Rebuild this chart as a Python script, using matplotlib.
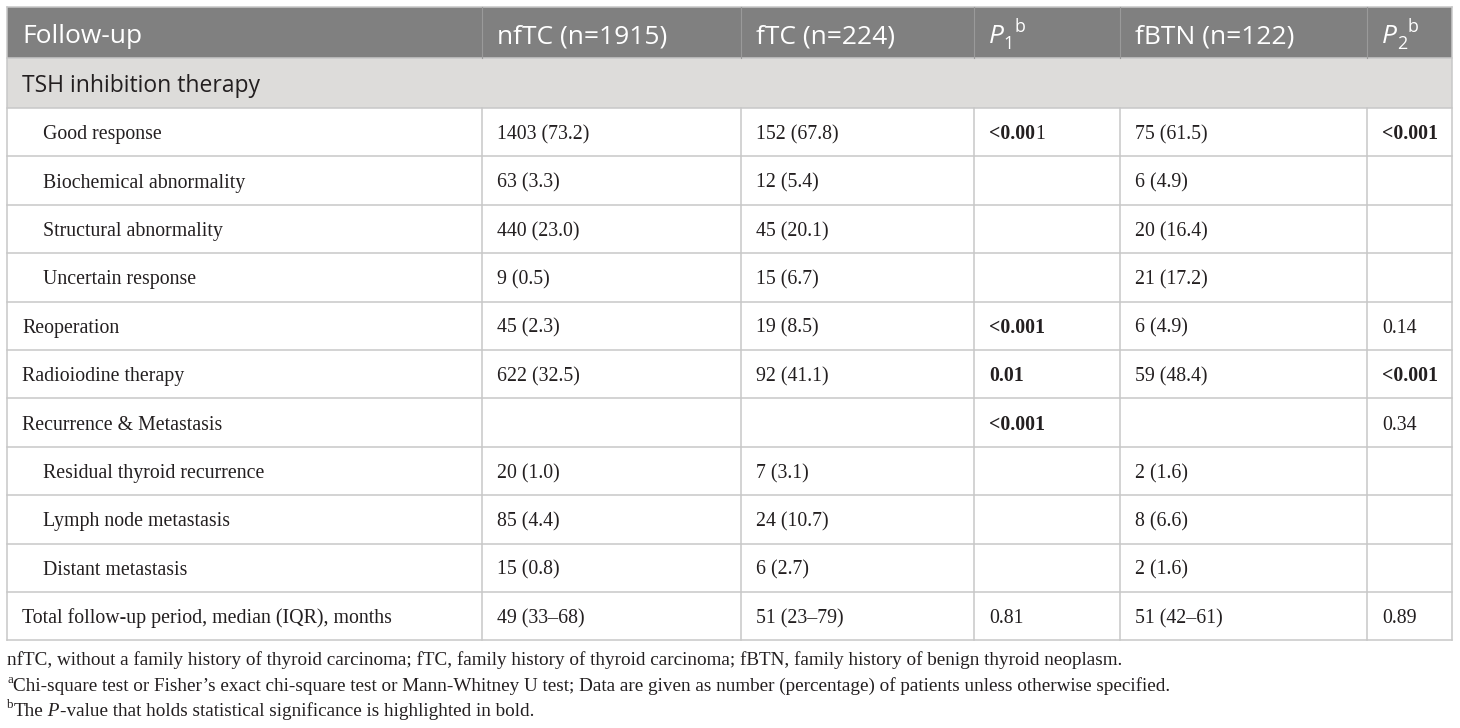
import matplotlib
matplotlib.use("Agg")
import matplotlib.pyplot as plt
from matplotlib.patches import Rectangle

W, H = 1460, 728

# ---- table content ----
headers = ["Follow-up", "nfTC (n=1915)", "fTC (n=224)", ("P", "1", "b"), "fBTN (n=122)", ("P", "2", "b")]
section_label = "TSH inhibition therapy"

row_labels = [
    "Good response",
    "Biochemical abnormality",
    "Structural abnormality",
    "Uncertain response",
    "Reoperation",
    "Radioiodine therapy",
    "Recurrence & Metastasis",
    "Residual thyroid recurrence",
    "Lymph node metastasis",
    "Distant metastasis",
    "Total follow-up period, median (IQR), months",
]
indented = [True, True, True, True, False, False, False, True, True, True, False]

nftc = ["1403 (73.2)", "63 (3.3)", "440 (23.0)", "9 (0.5)", "45 (2.3)", "622 (32.5)", "",
        "20 (1.0)", "85 (4.4)", "15 (0.8)", "49 (33\u201368)"]
ftc = ["152 (67.8)", "12 (5.4)", "45 (20.1)", "15 (6.7)", "19 (8.5)", "92 (41.1)", "",
       "7 (3.1)", "24 (10.7)", "6 (2.7)", "51 (23\u201379)"]
p1 = ["<0.001", "", "", "", "<0.001", "0.01", "<0.001", "", "", "", "0.81"]
fbtn = ["75 (61.5)", "6 (4.9)", "20 (16.4)", "21 (17.2)", "6 (4.9)", "59 (48.4)", "",
        "2 (1.6)", "8 (6.6)", "2 (1.6)", "51 (42\u201361)"]
p2 = ["<0.001", "", "", "", "0.14", "<0.001", "0.34", "", "", "", "0.89"]

# number of leading characters printed in bold (the source bolds "<0.00" but not the last 1)
p1_bold_chars = [5, 0, 0, 0, 6, 4, 6, 0, 0, 0, 0]
p2_bold_chars = [6, 0, 0, 0, 0, 6, 0, 0, 0, 0, 0]

footnote1 = ("nfTC, without a family history of thyroid carcinoma; fTC, family history of thyroid "
             "carcinoma; fBTN, family history of benign thyroid neoplasm.")
footnote2 = ("Chi-square test or Fisher\u2019s exact chi-square test or Mann-Whitney U test; Data are "
             "given as number (percentage) of patients unless otherwise specified.")
footnote3 = "-value that holds statistical significance is highlighted in bold."

# ---- layout ----
col_edges = [7, 482, 741, 974, 1120, 1367, 1452]
top, head_bot, sec_bot = 7, 58, 108
row_h = 48.4
SANS = "Open Sans"
SERIF = "Liberation Serif"
INK = "#231f20"
GRID = "#c8c8c8"

fig = plt.figure(figsize=(W / 100, H / 100), dpi=100)
ax = fig.add_axes([0, 0, 1, 1])
ax.set_xlim(0, W)
ax.set_ylim(H, 0)
ax.axis("off")
renderer = fig.canvas.get_renderer()


def draw_runs(x, y, runs, size, family, color):
    px = size * 100 / 72
    for txt, kind in runs:
        if not txt:
            continue
        kw = dict(family=family, color=color, va="baseline", ha="left")
        s, dy = size, 0
        if kind == "bold":
            kw["weight"] = "bold"
        elif kind == "italic":
            kw["style"] = "italic"
        elif kind == "sup":
            s, dy = size * 0.68, -0.40 * px
        elif kind == "sub":
            s, dy = size * 0.68, 0.22 * px
        t = ax.text(x, y + dy, txt, fontsize=s, **kw)
        x += t.get_window_extent(renderer).width
    return x


# backgrounds
x0, x1 = col_edges[0], col_edges[-1]
ax.add_patch(Rectangle((x0, top), x1 - x0, head_bot - top, facecolor="#808080", edgecolor="none"))
ax.add_patch(Rectangle((x0, head_bot), x1 - x0, sec_bot - head_bot, facecolor="#dddcda", edgecolor="none"))

row_tops = [sec_bot + i * row_h for i in range(len(row_labels) + 1)]
bottom = row_tops[-1]

# grid lines
lw = 1.1
ax.plot([x0, x1], [top, top], color=GRID, lw=lw)
ax.plot([x0, x1], [head_bot, head_bot], color=GRID, lw=lw)
for y in row_tops:
    ax.plot([x0, x1], [y, y], color=GRID, lw=lw)
for x in col_edges[1:-1]:
    ax.plot([x, x], [top, head_bot], color="#9a9a9a", lw=0.8)
    ax.plot([x, x], [sec_bot, bottom], color=GRID, lw=lw)
for x in (x0, x1):
    ax.plot([x, x], [top, bottom], color=GRID, lw=lw)

# header
HEAD_SIZE = 19
SEC_SIZE = 16.5
pad = 15
for j, h in enumerate(headers):
    xs = col_edges[j] + pad
    if isinstance(h, tuple):
        draw_runs(xs, 43, [(h[0], "italic"), (h[1], "sub"), (h[2], "sup")], HEAD_SIZE, SANS, "white")
    else:
        draw_runs(xs, 43, [(h, "normal")], HEAD_SIZE, SANS, "white")

draw_runs(22, 92, [(section_label, "normal")], SEC_SIZE, SANS, INK)

# body rows
BODY_SIZE = 14.3
for i, label in enumerate(row_labels):
    yb = (row_tops[i] + row_tops[i + 1]) / 2 + 7
    draw_runs(43 if indented[i] else 22, yb, [(label, "normal")], BODY_SIZE, SERIF, INK)
    cols = [nftc[i], ftc[i], p1[i], fbtn[i], p2[i]]
    bolds = [0, 0, p1_bold_chars[i], 0, p2_bold_chars[i]]
    for j, (val, nb) in enumerate(zip(cols, bolds)):
        draw_runs(col_edges[j + 1] + pad, yb, [(val[:nb], "bold"), (val[nb:], "normal")],
                  BODY_SIZE, SERIF, INK)

# footnotes
FOOT_SIZE = 13.8
draw_runs(7, 665, [(footnote1, "normal")], FOOT_SIZE, SERIF, INK)
draw_runs(7, 691, [("a", "sup"), (footnote2, "normal")], FOOT_SIZE, SERIF, INK)
draw_runs(7, 716, [("b", "sup"), ("The", "normal"), (" P", "italic"), (footnote3, "normal")],
          FOOT_SIZE, SERIF, INK)

fig.savefig("out.png", dpi=100)
